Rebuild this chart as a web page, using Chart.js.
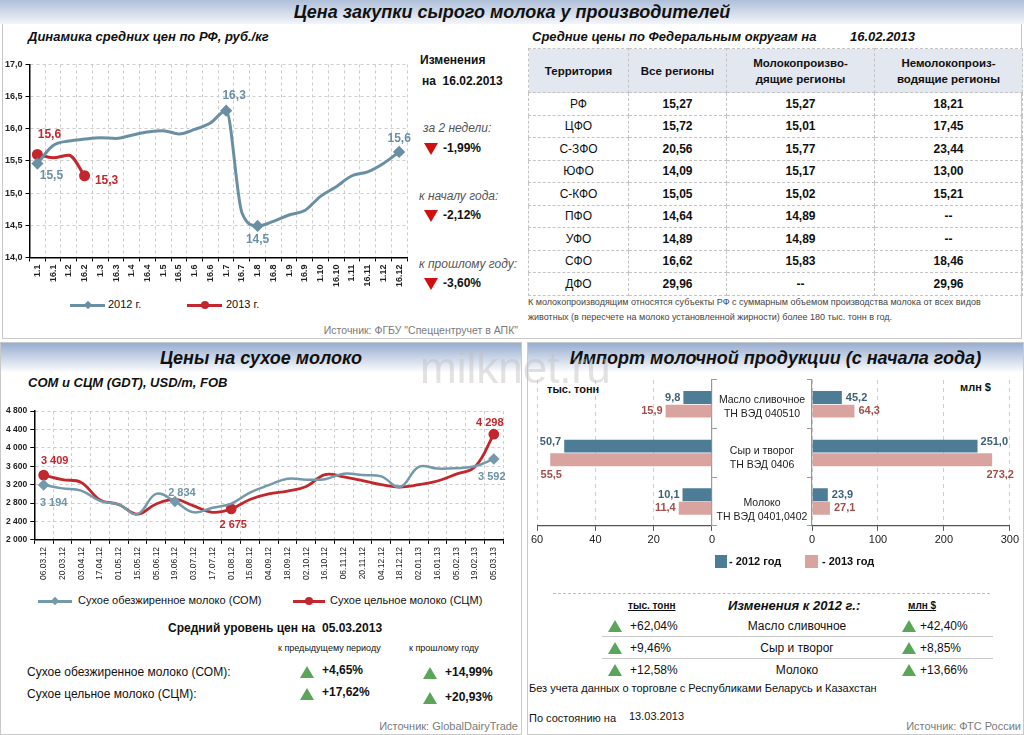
<!DOCTYPE html>
<html>
<head>
<meta charset="utf-8">
<script src="https://cdn.jsdelivr.net/npm/chart.js@4.4.0/dist/chart.umd.min.js"></script>
<style>
body{margin:0;width:1024px;height:735px;position:relative;overflow:hidden;background:#fff;font-family:"Liberation Sans",Arial,sans-serif;color:#111}
.a{position:absolute;white-space:nowrap}
.panel{position:absolute;border:1px solid #c9c9c9;box-sizing:border-box}
.hdr{position:absolute;background:linear-gradient(#97add0,#ffffff);font-weight:bold;font-style:italic;text-align:center;font-size:18px;color:#111}
.bi{font-weight:bold;font-style:italic;font-size:13px}
.b12{font-weight:bold;font-size:12px}
.src{font-size:10.5px;color:#7a7a7a}
.tri-d{position:absolute;width:0;height:0;border-left:7px solid transparent;border-right:7px solid transparent;border-top:12px solid #d10f0f}
.tri-u{position:absolute;width:0;height:0;border-left:7px solid transparent;border-right:7px solid transparent;border-bottom:12px solid #5aa55a}
#fo{position:absolute;left:528px;top:48px;border-collapse:collapse;font-size:12px}
#fo td,#fo th{border:1px dashed #c4c4c4;text-align:center;padding:0}
#fo th{background:#e2e7f0;height:43px;font-size:11.5px;line-height:16px}
#fo td{height:21.5px}
#fo td.v{font-weight:bold}
#chg{position:absolute;left:602px;top:615px;width:391px;border-collapse:collapse;table-layout:fixed}
#chg td{font-size:12px;height:21px;padding:0;border-bottom:1px solid #c8c8c8}
#chg tr:last-child td{border-bottom:none}
#chg .t{position:relative;width:0;height:0;border-left:7px solid transparent;border-right:7px solid transparent;border-bottom:12px solid #5aa55a}
</style>
</head>
<body>
<script>
// --- Динамика средних цен по РФ, руб./кг
const rfDates = ['1.1','16.1','1.2','16.2','1.3','16.3','1.4','16.4','1.5','16.5','1.6','16.6','1.7','16.7','1.8','16.8','1.9','16.9','1.10','16.10','1.11','16.11','1.12','16.12'];
const rf2012 = [15.46,15.74,15.81,15.84,15.86,15.85,15.90,15.95,15.97,15.92,15.99,16.09,16.28,14.70,14.49,14.56,14.66,14.73,14.95,15.10,15.27,15.33,15.46,15.64];
const rf2013 = [15.60,15.55,15.59,15.27];
const rf2012Marked = [0,12,14,23];
const rf2013Marked = [0,3];

// --- Средние цены по федеральным округам
const foNames = ['РФ','ЦФО','С-ЗФО','ЮФО','С-КФО','ПФО','УФО','СФО','ДФО'];
const foAll = ['15,27','15,72','20,56','14,09','15,05','14,64','14,89','16,62','29,96'];
const foProd = ['15,27','15,01','15,77','15,17','15,02','14,89','14,89','15,83','--'];
const foNonProd = ['18,21','17,45','23,44','13,00','15,21','--','--','18,46','29,96'];

// --- СОМ и СЦМ (GDT), USD/m, FOB
const gdtDates = ['06.03.12','20.03.12','03.04.12','17.04.12','01.05.12','15.05.12','05.06.12','19.06.12','03.07.12','17.07.12','01.08.12','15.08.12','04.09.12','18.09.12','02.10.12','16.10.12','06.11.12','20.11.12','04.12.12','18.12.12','02.01.13','16.01.13','05.02.13','19.02.13','05.03.13'];
const smp = [3194,3120,3070,2850,2770,2560,3000,2834,2600,2700,2790,3030,3190,3330,3310,3320,3440,3410,3380,3150,3590,3550,3560,3600,3760];
const wmp = [3409,3310,3250,2870,2770,2560,2780,2880,2740,2600,2675,2880,3000,3060,3160,3420,3370,3290,3200,3150,3200,3280,3430,3590,4298];
const smpMarked = [0,7,24], smpText = ['3 194','2 834','3 592'];
const wmpMarked = [0,10,24], wmpText = ['3 409','2 675','4 298'];

// --- Импорт молочной продукции
const importCats = ['Масло сливочное','Сыр и творог','Молоко'];
const importCodes = ['ТН ВЭД 040510','ТН ВЭД 0406','ТН ВЭД 0401,0402'];
const tons2012 = [9.8,50.7,10.1];
const tons2013 = [15.9,55.5,11.4];
const usd2012 = [45.2,251.0,23.9];
const usd2013 = [64.3,273.2,27.1];
const tonsChange = ['+62,04%','+9,46%','+12,58%'];
const usdChange = ['+42,40%','+8,85%','+13,66%'];
</script>

<!-- верхняя панель -->
<div class="panel" style="left:2px;top:22px;width:1020px;height:317px"></div>
<div class="hdr" style="left:0;top:0;width:1024px;height:24px;line-height:24px;background:linear-gradient(#aebfd9,#f3f5f9)">Цена закупки сырого молока у производителей</div>
<div class="a bi" style="left:28px;top:29px">Динамика средних цен по РФ, руб./кг</div>
<div class="a bi" style="left:532px;top:29px">Средние цены по Федеральным округам на</div>
<div class="a bi" style="left:850px;top:29px">16.02.2013</div>

<div class="a b12" style="left:420px;top:53px">Изменения</div>
<div class="a b12" style="left:422px;top:74px">на&nbsp;&nbsp;16.02.2013</div>
<div class="a" style="left:423px;top:121px;font-size:12px;font-style:italic;color:#555">за 2 недели:</div>
<div class="tri-d" style="left:424px;top:143px"></div>
<div class="a b12" style="left:443px;top:141px">-1,99%</div>
<div class="a" style="left:419px;top:189px;font-size:12px;font-style:italic;color:#555">к началу года:</div>
<div class="tri-d" style="left:424px;top:210px"></div>
<div class="a b12" style="left:443px;top:208px">-2,12%</div>
<div class="a" style="left:419px;top:257px;font-size:12px;font-style:italic;color:#555">к прошлому году:</div>
<div class="tri-d" style="left:424px;top:278px"></div>
<div class="a b12" style="left:443px;top:276px">-3,60%</div>
<div class="a src" style="right:506px;top:324px">Источник: ФГБУ "Спеццентручет в АПК"</div>

<div class="a" style="left:70px;top:304px;width:35px;height:3px;background:#6a8fa3"></div>
<div class="a" style="left:85px;top:302px;width:6px;height:6px;background:#6a8fa3;transform:rotate(45deg)"></div>
<div class="a" style="left:108px;top:298px;font-size:11px">2012 г.</div>
<div class="a" style="left:187px;top:304px;width:35px;height:3px;background:#c1272d"></div>
<div class="a" style="left:201px;top:301px;width:8px;height:8px;border-radius:50%;background:#c1272d"></div>
<div class="a" style="left:226px;top:298px;font-size:11px">2013 г.</div>

<div class="a" style="left:2px;top:56px;width:412px;height:234px"><canvas id="rf"></canvas></div>

<table id="fo"></table>
<div class="a" style="left:528px;top:297px;font-size:9px;color:#444">К молокопроизводящим относятся субъекты РФ с суммарным объемом производства молока от всех видов</div>
<div class="a" style="left:528px;top:312px;font-size:9px;color:#444">животных (в пересчете на молоко установленной жирности) более 180 тыс. тонн в год.</div>

<!-- нижняя левая панель -->
<div class="panel" style="left:0;top:342px;width:522px;height:393px"></div>
<div class="hdr" style="left:1px;top:343px;width:520px;height:30px;line-height:30px">Цены на сухое молоко</div>
<div class="a bi" style="left:28px;top:375px">СОМ и СЦМ (GDT), USD/m, FOB</div>
<div class="a" style="left:3px;top:403px;width:507px;height:180px"><canvas id="gdt"></canvas></div>

<div class="a" style="left:38px;top:600px;width:34px;height:3px;background:#7399aa"></div>
<div class="a" style="left:52px;top:598px;width:6px;height:6px;background:#7399aa;transform:rotate(45deg)"></div>
<div class="a" style="left:78px;top:594px;font-size:11px">Сухое обезжиренное молоко (СОМ)</div>
<div class="a" style="left:293px;top:600px;width:32px;height:3px;background:#c1272d"></div>
<div class="a" style="left:305px;top:597px;width:8px;height:8px;border-radius:50%;background:#c1272d"></div>
<div class="a" style="left:330px;top:594px;font-size:11px">Сухое цельное молоко (СЦМ)</div>

<div class="a b12" style="left:168px;top:621px">Средний уровень цен на</div>
<div class="a b12" style="left:322px;top:621px">05.03.2013</div>
<div class="a" style="left:278px;top:643px;font-size:9px">к предыдущему периоду</div>
<div class="a" style="left:409px;top:643px;font-size:9px">к прошлому году</div>
<div class="a" style="left:27px;top:665px;font-size:12px">Сухое обезжиренное молоко (СОМ):</div>
<div class="a" style="left:27px;top:687px;font-size:12px">Сухое цельное молоко (СЦМ):</div>
<div class="tri-u" style="left:300px;top:666px"></div>
<div class="a b12" style="left:322px;top:663px">+4,65%</div>
<div class="tri-u" style="left:423px;top:667px"></div>
<div class="a b12" style="left:445px;top:665px">+14,99%</div>
<div class="tri-u" style="left:300px;top:688px"></div>
<div class="a b12" style="left:322px;top:685px">+17,62%</div>
<div class="tri-u" style="left:423px;top:692px"></div>
<div class="a b12" style="left:445px;top:690px">+20,93%</div>
<div class="a" style="right:506px;top:720px;font-size:11px;color:#7a7a7a">Источник: GlobalDairyTrade</div>

<!-- нижняя правая панель -->
<div class="panel" style="left:527px;top:342px;width:497px;height:393px"></div>
<div class="hdr" style="left:528px;top:343px;width:495px;height:30px;line-height:30px">Импорт молочной продукции (с начала года)</div>
<div class="a" style="left:547px;top:383px;font-size:11px;font-weight:bold">тыс. тонн</div>
<div class="a" style="left:960px;top:381px;font-size:11px;font-weight:bold">млн $</div>
<div class="a" style="left:528px;top:375px;width:190px;height:175px"><canvas id="impT"></canvas></div>
<div class="a" style="left:806px;top:375px;width:216px;height:175px"><canvas id="impU"></canvas></div>
<div id="mid"></div>

<div class="a" style="left:715px;top:555px;width:12px;height:13px;background:#4d7c96"></div>
<div class="a" style="left:729px;top:555px;font-size:11px;font-weight:bold">- 2012 год</div>
<div class="a" style="left:805px;top:555px;width:13px;height:13px;background:#d9a3a0"></div>
<div class="a" style="left:822px;top:555px;font-size:11px;font-weight:bold">- 2013 год</div>

<div class="a" style="left:553px;top:593px;width:437px;border-top:1px dashed #bbb"></div>
<div class="a" style="left:628px;top:600px;font-size:10px;font-weight:bold;text-decoration:underline">тыс. тонн</div>
<div class="a" style="left:728px;top:598px;font-size:13px;font-weight:bold;font-style:italic">Изменения к 2012 г.:</div>
<div class="a" style="left:908px;top:600px;font-size:10px;font-weight:bold;text-decoration:underline">млн $</div>
<table id="chg"></table>
<div class="a" style="left:529px;top:682px;font-size:11px">Без учета данных о торговле с Республиками Беларусь и Казахстан</div>
<div class="a" style="left:529px;top:712px;font-size:11px">По состоянию на</div>
<div class="a" style="left:629px;top:710px;font-size:11px">13.03.2013</div>
<div class="a" style="right:3px;top:720px;font-size:11px;color:#7a7a7a">Источник: ФТС России</div>

<div class="a" style="left:420px;top:343px;font-size:44px;color:rgba(190,190,190,0.45)">milknet.ru</div>

<script>
Chart.defaults.font.family = '"Liberation Sans", Arial, sans-serif';
Chart.defaults.color = '#222';

// таблица округов
const fo = document.getElementById('fo');
let html = '<tr><th style="width:99px">Территория</th><th style="width:97px">Все регионы</th><th style="width:147px">Молокопроизво-<br>дящие регионы</th><th style="width:147px">Немолокопроиз-<br>водящие регионы</th></tr>';
foNames.forEach((n, i) => {
  html += '<tr><td>' + n + '</td><td class="v">' + foAll[i] + '</td><td class="v">' + foProd[i] + '</td><td class="v">' + foNonProd[i] + '</td></tr>';
});
fo.innerHTML = html;

// подписи категорий импорта
const mid = document.getElementById('mid');
const midY = [399, 450, 502];
importCats.forEach((c, i) => {
  mid.innerHTML += '<div class="a" style="left:712px;width:100px;text-align:center;top:' + (midY[i] - 7) + 'px;font-size:10.5px;line-height:14px;color:#222">' + c + '<br>' + importCodes[i] + '</div>';
});

// таблица изменений
const chg = document.getElementById('chg');
let h2 = '<colgroup><col style="width:28px"><col style="width:69px"><col style="width:196px"><col style="width:25px"><col style="width:73px"></colgroup>';
importCats.forEach((c, i) => {
  h2 += '<tr><td><div class="t" style="left:6px"></div></td><td>' + tonsChange[i] + '</td>' +
    '<td style="text-align:center">' + c + '</td>' +
    '<td><div class="t" style="left:7px"></div></td><td>' + usdChange[i] + '</td></tr>';
});
chg.innerHTML = h2;

// плагин подписей значений
const valueLabels = {
  id: 'valueLabels',
  afterDatasetsDraw(chart) {
    const ctx = chart.ctx;
    chart.data.datasets.forEach((ds, di) => {
      if (!ds.tags) return;
      const meta = chart.getDatasetMeta(di);
      ds.tags.forEach(t => {
        const el = meta.data[t.i];
        ctx.save();
        ctx.font = 'bold ' + (t.size || 11) + 'px "Liberation Sans", Arial, sans-serif';
        ctx.fillStyle = ds.tagColor;
        ctx.textAlign = t.align || 'center';
        ctx.textBaseline = 'middle';
        ctx.fillText(t.text, el.x + t.dx, el.y + t.dy);
        ctx.restore();
      });
    });
  }
};

const dashGrid = {color: '#cccccc', tickColor: '#000', tickLength: 4, offset: true};
const one = v => v.toFixed(1).replace('.', ',');

// линия цен по РФ
const rfOffsets12 = [[14, 12], [8, -15], [0, 14], [0, -13]];
const rfOffsets13 = [[12, -20], [22, 5]];
new Chart(document.getElementById('rf'), {
  type: 'line',
  data: {
    labels: rfDates,
    datasets: [
      {data: rf2012, borderColor: '#6a8fa3', borderWidth: 3, cubicInterpolationMode: 'monotone',
       pointStyle: 'rectRot', backgroundColor: '#6a8fa3',
       pointRadius: rf2012.map((v, i) => rf2012Marked.includes(i) ? 4 : 0),
       tagColor: '#6a8fa3',
       tags: rf2012Marked.map((i, k) => ({i, text: one(rf2012[i]), dx: rfOffsets12[k][0], dy: rfOffsets12[k][1], size: 12}))},
      {data: rf2013, borderColor: '#c1272d', borderWidth: 3, cubicInterpolationMode: 'monotone',
       pointStyle: 'circle', backgroundColor: '#c1272d',
       pointRadius: rf2013.map((v, i) => rf2013Marked.includes(i) ? 4 : 0),
       tagColor: '#c1272d',
       tags: rf2013Marked.map((i, k) => ({i, text: one(rf2013[i]), dx: rfOffsets13[k][0], dy: rfOffsets13[k][1], size: 12}))}
    ]
  },
  options: {
    responsive: true, maintainAspectRatio: false, animation: false,
    layout: {padding: {right: 6}},
    plugins: {legend: {display: false}, tooltip: {enabled: false}},
    scales: {
      x: {offset: true, grid: dashGrid, border: {color: '#000', width: 1.5, dash: [3, 3]},
          ticks: {maxRotation: 90, minRotation: 90, autoSkip: false, font: {size: 9, weight: 'bold'}, color: '#222'}},
      y: {min: 14, max: 17, grid: {color: '#cccccc', tickColor: '#000', tickLength: 4}, border: {color: '#000', width: 1.5, dash: [3, 3]},
          ticks: {stepSize: 0.5, callback: v => one(v), font: {size: 9, weight: 'bold'}, color: '#222'}}
    }
  },
  plugins: [valueLabels]
});

// сухое молоко GDT
const smpOffsets = [[10, 18], [7, -9], [-2, 18]];
const wmpOffsets = [[11, -14], [2, 16], [-4, -11]];
new Chart(document.getElementById('gdt'), {
  type: 'line',
  data: {
    labels: gdtDates,
    datasets: [
      {data: smp, borderColor: '#7399aa', borderWidth: 2.5, tension: 0.4,
       pointStyle: 'rectRot', backgroundColor: '#7399aa',
       pointRadius: smp.map((v, i) => smpMarked.includes(i) ? 4 : 0),
       tagColor: '#6d93a4',
       tags: smpMarked.map((i, k) => ({i, text: smpText[k], dx: smpOffsets[k][0], dy: smpOffsets[k][1], size: 11}))},
      {data: wmp, borderColor: '#c1272d', borderWidth: 2.8, tension: 0.4,
       pointStyle: 'circle', backgroundColor: '#c1272d',
       pointRadius: wmp.map((v, i) => wmpMarked.includes(i) ? 4 : 0),
       tagColor: '#c1272d',
       tags: wmpMarked.map((i, k) => ({i, text: wmpText[k], dx: wmpOffsets[k][0], dy: wmpOffsets[k][1], size: 11}))}
    ]
  },
  options: {
    responsive: true, maintainAspectRatio: false, animation: false,
    layout: {padding: {right: 4}},
    plugins: {legend: {display: false}, tooltip: {enabled: false}},
    scales: {
      x: {offset: true, grid: dashGrid, border: {color: '#000', width: 1.5, dash: [3, 3]},
          ticks: {maxRotation: 90, minRotation: 90, autoSkip: false, font: {size: 8.5}, color: '#222'}},
      y: {min: 2000, max: 4800, grid: {color: '#cccccc', tickColor: '#000', tickLength: 4}, border: {color: '#000', width: 1.5, dash: [3, 3]},
          ticks: {stepSize: 400, callback: v => String(v).replace(/(\d)(\d{3})$/, '$1 $2'), font: {size: 8.5, weight: 'bold'}, color: '#222'}}
    }
  },
  plugins: [valueLabels]
});

// импорт: зеркальные горизонтальные столбцы
function importChart(id, reverse, max, step, d12, d13, off12, off13, align12, align13) {
  new Chart(document.getElementById(id), {
    type: 'bar',
    data: {
      labels: importCats,
      datasets: [
        {data: d12, backgroundColor: '#4d7c96', tagColor: '#3e6178',
         tags: d12.map((v, i) => ({i, text: one(v), dx: off12[i][0], dy: off12[i][1], align: align12[i]}))},
        {data: d13, backgroundColor: '#d9a3a0', tagColor: '#a24f4c',
         tags: d13.map((v, i) => ({i, text: one(v), dx: off13[i][0], dy: off13[i][1], align: align13[i]}))}
      ]
    },
    options: {
      indexAxis: 'y', responsive: true, maintainAspectRatio: false, animation: false,
      datasets: {bar: {categoryPercentage: 0.56, barPercentage: 0.95}},
      layout: {padding: reverse ? {left: 0, right: 0, top: 5} : {left: 0, right: 10, top: 5}},
      plugins: {legend: {display: false}, tooltip: {enabled: false}},
      scales: {
        x: {min: 0, max: max, reverse: reverse,
            grid: {color: '#cfcfcf', tickColor: '#555', tickLength: 5},
            border: {color: '#555', width: 1.2, dash: [4, 4]},
            ticks: {stepSize: step, font: {size: 11}, color: '#222'}},
        y: {position: reverse ? 'right' : 'left',
            grid: {drawOnChartArea: false, tickColor: '#999', tickLength: 5, offset: true},
            border: {color: '#999', width: 1.2},
            ticks: {display: false}}
      }
    },
    plugins: [valueLabels]
  });
}
importChart('impT', true, 60, 20, tons2012, tons2013,
  [[-3, 0], [-3, -4], [-3, 0]], [[-3, 0], [1, 15], [-3, 0]],
  ['right', 'right', 'right'], ['right', 'center', 'right']);
importChart('impU', false, 300, 100, usd2012, usd2013,
  [[4, 0], [3, -4], [4, 0]], [[4, 0], [8, 15], [4, 0]],
  ['left', 'left', 'left'], ['left', 'center', 'left']);
</script>
</body>
</html>
